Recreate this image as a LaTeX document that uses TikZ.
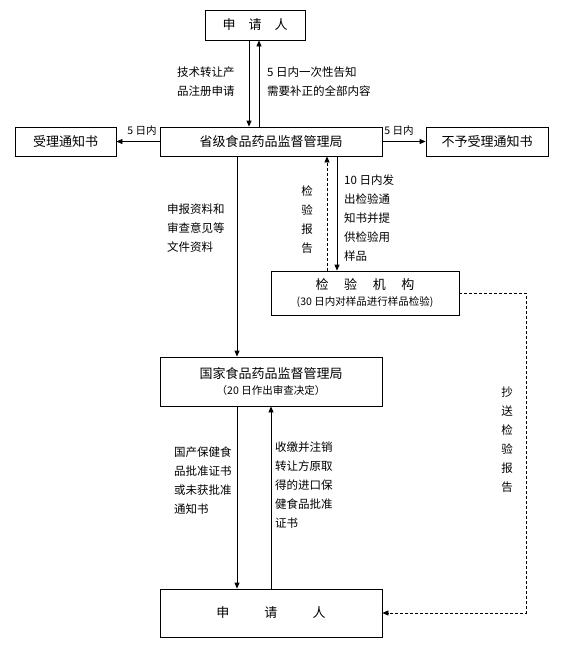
\documentclass[tikz,border=0pt]{standalone}
\usepackage{fontspec}
\setmainfont{Noto Sans CJK SC}
\usetikzlibrary{arrows.meta}

\begin{document}
\begin{tikzpicture}[
    x=1pt, y=-1pt,
    box/.style={rectangle, draw, line width=0.8pt, align=center, inner sep=0pt,
                font=\fontsize{13}{19}\selectfont},
    lbl/.style={align=left, inner sep=0pt, font=\fontsize{11.5}{19}\selectfont},
    small/.style={inner sep=0pt, font=\fontsize{10.5}{12}\selectfont},
    arrow/.style={-{Triangle[length=6pt,width=5pt]}, line width=0.8pt},
    dasharrow/.style={arrow, dash pattern=on 3pt off 2pt}
]
\useasboundingbox (0,0) rectangle (560,653);

% Boxes
\node[box, minimum width=100, minimum height=30] (top) at (255,25) {申\hspace{1em}请\hspace{1em}人};
\node[box, minimum width=222, minimum height=29] (prov) at (271,141.5) {省级食品药品监督管理局};
\node[box, minimum width=101, minimum height=29] (accept) at (65.5,141.5) {受理通知书};
\node[box, minimum width=122, minimum height=29] (reject) at (487,141.5) {不予受理通知书};
\node[box, minimum width=188, minimum height=44] (insp) at (365,293)
    {检\hspace{1.2em}验\hspace{1.2em}机\hspace{1.2em}构\\[-3pt]{\fontsize{10.5}{12}\selectfont (30 日内对样品进行样品检验)}};
\node[box, minimum width=222, minimum height=49] (nat) at (271,381.5)
    {国家食品药品监督管理局\\[-3pt]{\fontsize{10.5}{12}\selectfont （20 日作出审查决定）}};
\node[box, minimum width=222, minimum height=48] (bot) at (271,613) {申\hspace{2.7em}请\hspace{2.7em}人};

% Arrows
\draw[arrow] ([xshift=-6]top.south) -- ([xshift=-6]top.south |- prov.north);
\draw[arrow] ([xshift=4]top.south |- prov.north) -- ([xshift=4]top.south);
\draw[arrow] (prov.west) -- (accept.east);
\draw[arrow] (prov.east) -- (reject.west);
\draw[arrow] ([xshift=-34]prov.south) -- ([xshift=-34]nat.north);
\draw[dasharrow] ([xshift=-38]insp.north) -- ([xshift=-38]insp.north |- prov.south);
\draw[arrow] ([xshift=-28]insp.north |- prov.south) -- ([xshift=-28]insp.north);
\draw[dasharrow] (insp.east) -- ++(67,0) |- (bot.east);
\draw[arrow] ([xshift=-34]nat.south) -- ([xshift=-34]bot.north);
\draw[arrow] (bot.north) -- (nat.south);

% Labels
\node[lbl, anchor=west] (lreq) at (177,82) {技术转让产\\品注册申请};
\node[lbl, anchor=west] (lfix) at (267,82) {5 日内一次性告知\\需要补正的全部内容};
\node[small] (lacc) at (142,131) {5 日内};
\node[small] (lrej) at (399,131) {5 日内};
\node[lbl, anchor=west] (ldoc) at (167,228) {申报资料和\\审查意见等\\文件资料};
\node[lbl, align=center] (lrep) at (307,220) {检\\验\\报\\告};
\node[lbl, anchor=west] (lsamp) at (344,218) {10 日内发\\出检验通\\知书并提\\供检验用\\样品};
\node[lbl, anchor=west] (lcert) at (174,481) {国产保健食\\品批准证书\\或未获批准\\通知书};
\node[lbl, anchor=west] (lrev) at (275,485) {收缴并注销\\转让方原取\\得的进口保\\健食品批准\\证书};
\node[lbl, align=center] (lcopy) at (507,440) {抄\\送\\检\\验\\报\\告};

\end{tikzpicture}
\end{document}
